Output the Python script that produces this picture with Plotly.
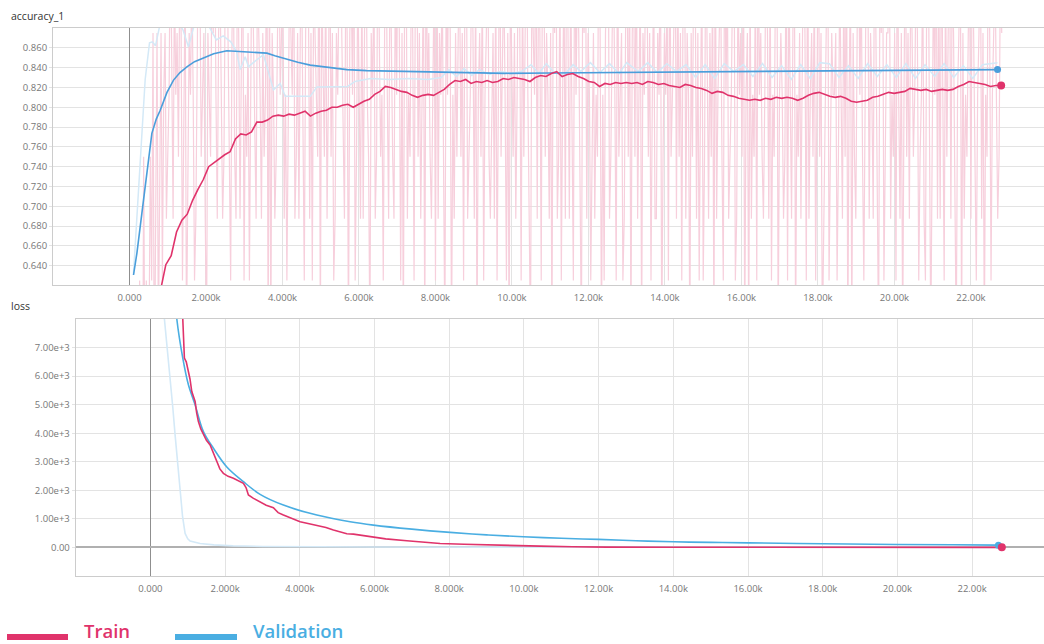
import plotly.graph_objects as go

W, H = 1044, 644

# ---------------- accuracy_1 ----------------
# training batches hold 16 samples; correct predictions per logged batch,
# logged every 35 steps from step 230
BATCH_SIZE = 16
train_correct_per_batch = [
    8, 10, 9, 6, 12, 8, 10, 7, 9, 12, 10, 14, 8, 11, 14, 9, 12, 14, 10, 13,
    14, 11, 12, 13, 16, 14, 11, 15, 13, 14, 12, 15, 14, 10, 13, 15, 9, 12, 14, 13,
    15, 13, 10, 11, 14, 16, 15, 12, 13, 14, 11, 9, 14, 13, 12, 15, 14, 16, 13, 11,
    14, 15, 13, 11, 12, 15, 16, 14, 13, 10, 14, 15, 12, 11, 15, 14, 11, 14, 16, 10,
    13, 12, 14, 10, 13, 16, 14, 12, 11, 15, 14, 13, 11, 14, 12, 13, 16, 9, 15, 9,
    14, 13, 11, 12, 14, 16, 13, 14, 15, 11, 13, 10, 12, 15, 14, 13, 16, 11, 12, 14,
    11, 14, 15, 13, 10, 14, 16, 15, 11, 14, 10, 15, 14, 13, 12, 16, 9, 15, 13, 12,
    15, 11, 13, 16, 12, 14, 10, 11, 14, 13, 15, 16, 14, 12, 11, 15, 14, 9, 14, 15,
    13, 16, 10, 12, 15, 13, 11, 15, 11, 14, 16, 13, 12, 9, 14, 13, 15, 11, 12, 16,
    14, 12, 13, 10, 14, 16, 13, 11, 15, 14, 12, 11, 15, 13, 16, 14, 10, 14, 9, 15,
    16, 11, 13, 12, 15, 14, 10, 15, 16, 12, 14, 11, 13, 15, 9, 16, 13, 14, 12, 11,
    13, 15, 10, 16, 11, 14, 13, 15, 12, 9, 15, 13, 16, 14, 9, 13, 11, 14, 12, 14,
    15, 12, 14, 10, 15, 16, 11, 12, 13, 15, 14, 11, 15, 9, 13, 14, 12, 15, 10, 13,
    14, 16, 12, 11, 13, 14, 11, 15, 10, 13, 16, 12, 14, 15, 13, 10, 14, 9, 15, 13,
    12, 14, 11, 13, 16, 14, 10, 15, 12, 14, 16, 13, 11, 9, 15, 14, 13, 16, 11, 15,
    14, 10, 16, 15, 12, 14, 13, 11, 14, 9, 15, 14, 16, 11, 12, 15, 10, 13, 15, 11,
    16, 14, 11, 15, 12, 10, 16, 13, 15, 14, 12, 9, 15, 14, 16, 11, 14, 13, 10, 12,
    14, 11, 13, 12, 16, 14, 9, 13, 10, 14, 15, 16, 11, 12, 14, 15, 13, 10, 16, 12,
    13, 14, 10, 11, 14, 16, 12, 15, 9, 14, 15, 12, 16, 11, 13, 15, 9, 14, 13, 15,
    15, 12, 14, 10, 13, 15, 11, 11, 14, 13, 16, 9, 12, 14, 13, 15, 10, 16, 12, 13,
    14, 16, 11, 15, 12, 14, 10, 15, 16, 11, 14, 13, 9, 14, 12, 16, 15, 11, 14, 10,
    13, 15, 10, 12, 16, 13, 11, 14, 12, 15, 9, 16, 11, 13, 14, 15, 12, 10, 16, 13,
    15, 11, 12, 13, 15, 16, 10, 11, 15, 13, 14, 12, 16, 9, 13, 14, 9, 15, 11, 13,
    12, 15, 10, 16, 13, 14, 12, 11, 13, 16, 14, 11, 15, 10, 13, 12, 15, 16, 9, 13,
    14, 13, 11, 12, 16, 10, 15, 13, 11, 14, 16, 9, 13, 12, 14, 11, 13, 16, 14, 10,
    16, 11, 13, 14, 12, 15, 10, 13, 16, 12, 14, 9, 11, 13, 14, 16, 10, 12, 14, 13,
    13, 14, 10, 12, 15, 13, 11, 15, 12, 16, 9, 13, 15, 9, 14, 12, 11, 14, 16, 13,
    15, 12, 10, 13, 16, 15, 11, 14, 13, 11, 16, 14, 12, 9, 15, 14, 16, 10, 12, 14,
    14, 16, 11, 13, 12, 14, 10, 16, 13, 11, 14, 9, 13, 16, 12, 14, 11, 15, 14, 12,
    13, 15, 14, 10, 12, 13, 15, 11, 10, 15, 16, 13, 9, 12, 15, 13, 16, 11, 15, 11,
    16, 13, 10, 15, 12, 14, 16, 11, 15, 14, 12, 9, 13, 14, 16, 9, 14, 11, 13, 12,
    14, 15, 11, 16, 14, 12, 10, 13, 14, 16, 11, 14, 9, 13, 12, 16, 14, 10, 13, 14,
    15, 13, 11, 12, 15, 14,
]
TRAIN_RAW_FIRST_STEP, TRAIN_RAW_EVERY = 230, 35
train_acc_raw = [c / BATCH_SIZE for c in train_correct_per_batch]
train_acc_raw_steps = [TRAIN_RAW_FIRST_STEP + TRAIN_RAW_EVERY * i for i in range(len(train_acc_raw))]

# smoothed training accuracy, sampled every 140 steps from step 250
train_acc_smooth = [
    0.500, 0.530, 0.560, 0.590, 0.615, 0.641, 0.650, 0.674, 0.686, 0.692, 0.706, 0.717, 0.727, 0.740, 0.744, 0.748,
    0.752, 0.755, 0.768, 0.773, 0.772, 0.775, 0.785, 0.785, 0.787, 0.791, 0.792, 0.791, 0.793, 0.792, 0.794, 0.796,
    0.791, 0.794, 0.796, 0.797, 0.800, 0.800, 0.802, 0.803, 0.800, 0.803, 0.806, 0.808, 0.813, 0.816, 0.821, 0.820,
    0.818, 0.816, 0.815, 0.812, 0.810, 0.812, 0.813, 0.812, 0.815, 0.818, 0.823, 0.827, 0.826, 0.828, 0.824, 0.826,
    0.825, 0.827, 0.825, 0.826, 0.829, 0.828, 0.830, 0.829, 0.828, 0.826, 0.830, 0.832, 0.831, 0.834, 0.836, 0.831,
    0.833, 0.834, 0.831, 0.829, 0.826, 0.825, 0.821, 0.824, 0.823, 0.825, 0.824, 0.825, 0.824, 0.825, 0.823, 0.826,
    0.825, 0.823, 0.824, 0.822, 0.821, 0.820, 0.823, 0.822, 0.820, 0.819, 0.817, 0.814, 0.816, 0.815, 0.812, 0.811,
    0.809, 0.808, 0.807, 0.808, 0.807, 0.809, 0.808, 0.810, 0.809, 0.810, 0.809, 0.807, 0.809, 0.812, 0.814, 0.815,
    0.813, 0.811, 0.810, 0.811, 0.809, 0.806, 0.805, 0.806, 0.807, 0.810, 0.811, 0.813, 0.815, 0.814, 0.815, 0.816,
    0.819, 0.818, 0.817, 0.818, 0.816, 0.817, 0.818, 0.817, 0.818, 0.821, 0.823, 0.826, 0.825, 0.824, 0.823, 0.821,
    0.822, 0.822,
]
TRAIN_SMOOTH_FIRST_STEP, TRAIN_SMOOTH_EVERY = 250, 140
train_acc_steps = [TRAIN_SMOOTH_FIRST_STEP + TRAIN_SMOOTH_EVERY * i for i in range(len(train_acc_smooth))]

# validation accuracy (raw evaluations and smoothed)
val_acc_raw_steps = [
    105, 250, 410, 523, 600, 680, 810, 1000, 1200, 1400, 1540, 1700, 1900, 2100, 2270, 2450, 2650, 2800, 2894, 3024,
    3111, 3300, 3503, 3765, 3940, 4071, 4400, 4725, 4899, 5300, 5700, 5900, 6300, 6800, 7300, 7800, 8150, 8350, 8550,
    8750, 8950, 9150, 9400, 9700, 10000, 10250, 10500, 10700, 10900, 11100, 11350, 11600, 11800, 12050, 12300, 12550,
    12800, 13000, 13300, 13550, 13800, 14050, 14300, 14550, 14800, 15050, 15300, 15550, 15800, 16050, 16300, 16550,
    16800, 17050, 17300, 17550, 17800, 18050, 18300, 18550, 18800, 19050, 19300, 19550, 19800, 20050, 20300, 20550,
    20800, 21050, 21300, 21550, 21800, 22050, 22300, 22695,
]
val_acc_raw = [
    0.632, 0.720, 0.828, 0.865, 0.866, 0.862, 0.886, 0.895, 0.890, 0.878, 0.861, 0.884, 0.893, 0.880, 0.868, 0.872,
    0.866, 0.856, 0.838, 0.851, 0.841, 0.847, 0.853, 0.8175, 0.824, 0.811, 0.811, 0.811, 0.8205, 0.821, 0.821, 0.826,
    0.829, 0.828, 0.829, 0.828, 0.830, 0.838, 0.831, 0.839, 0.832, 0.838, 0.833, 0.836, 0.834, 0.836, 0.843, 0.834,
    0.844, 0.835, 0.832, 0.843, 0.836, 0.845, 0.835, 0.844, 0.834, 0.845, 0.836, 0.845, 0.835, 0.844, 0.836, 0.843,
    0.830, 0.843, 0.829, 0.844, 0.836, 0.843, 0.831, 0.844, 0.830, 0.842, 0.828, 0.843, 0.829, 0.845, 0.844, 0.830,
    0.842, 0.829, 0.844, 0.831, 0.843, 0.830, 0.844, 0.829, 0.843, 0.831, 0.844, 0.830, 0.842, 0.829, 0.843, 0.845,
]
val_acc_steps = [
    105, 193, 324, 455, 585, 700, 803, 980, 1151, 1320, 1500, 1700, 1935, 2200, 2546, 2800, 3069, 3300, 3592, 3800,
    4027, 4400, 4725, 5200, 5684, 6200, 6816, 7500, 8122, 9000, 9800, 11000, 12500, 14615, 16500, 18500, 20500, 22695,
]
val_acc_smooth = [
    0.6306, 0.6525, 0.693, 0.733, 0.7736, 0.788, 0.797, 0.815, 0.8274, 0.835, 0.8408, 0.846, 0.850, 0.854, 0.857,
    0.8565, 0.8555, 0.855, 0.8546, 0.852, 0.8493, 0.8455, 0.8425, 0.840, 0.838, 0.837, 0.8365, 0.8355, 0.8348, 0.8345,
    0.8342, 0.8345, 0.835, 0.835, 0.8358, 0.8365, 0.8373, 0.838,
]

# ---------------- loss ----------------
train_loss_steps = [
    250, 500, 700, 867, 910, 960, 1018, 1060, 1108, 1150, 1197, 1240, 1285, 1350, 1419, 1500, 1598, 1700, 1777, 1860,
    1954, 2080, 2222, 2350, 2490, 2560, 2624, 2760, 2937, 3100, 3293, 3420, 3561, 3800, 4008, 4250, 4455, 4700, 4900,
    5100, 5259, 5435, 5700, 6062, 6300, 6865, 7300, 7757, 8400, 9096, 9800, 10434, 11300, 12220, 14000, 16000, 18000,
    20000, 22796,
]
train_loss_smooth = [
    30000, 17000, 11000, 8000, 6631, 6500, 6161, 5900, 5460, 5300, 5109, 4700, 4407, 4150, 3940, 3750, 3589, 3250, 3004,
    2750, 2596, 2490, 2421, 2330, 2246, 2100, 1835, 1720, 1600, 1480, 1389, 1220, 1133, 1010, 898, 830, 782, 700, 607,
    540, 477, 467, 420, 351, 300, 232, 190, 140, 110, 81, 62, 46, 25, 10, 8, 6, 5, 4, 4,
]
val_loss_raw_steps = [105, 250, 375, 450, 527, 600, 661, 730, 795, 860, 929, 1000, 1063, 1331, 1700, 2216, 3000, 4000,
                      6000, 9000, 13000, 18000, 22695]
val_loss_raw = [30000, 14000, 8000, 7000, 6000, 4900, 3940, 2900, 1835, 1100, 491, 300, 221, 140, 90, 56, 35, 25, 15,
                10, 7, 5, 4]
val_loss_steps = [105, 300, 500, 707, 867, 1018, 1197, 1419, 1687, 2046, 2490, 2937, 3561, 4455, 5347, 5971, 7000,
                  8024, 9000, 9987, 11000, 11996, 13000, 14004, 15000, 16011, 18000, 19984, 21500, 22704]
val_loss_smooth = [30000, 18000, 11500, 8000, 6631, 5695, 4993, 4056, 3474, 2818, 2302, 1860, 1484, 1133, 898, 782, 640,
                   526, 440, 372, 320, 281, 235, 197, 178, 161, 130, 105, 92, 81]

# axis labelling
step_ticks = [0, 2000, 4000, 6000, 8000, 10000, 12000, 14000, 16000, 18000, 20000, 22000]
step_tick_text = ["0.000", "2.000k", "4.000k", "6.000k", "8.000k", "10.00k", "12.00k", "14.00k", "16.00k",
                  "18.00k", "20.00k", "22.00k"]
acc_ticks = [0.64, 0.66, 0.68, 0.70, 0.72, 0.74, 0.76, 0.78, 0.80, 0.82, 0.84, 0.86]
acc_tick_text = ["0.640", "0.660", "0.680", "0.700", "0.720", "0.740", "0.760", "0.780", "0.800", "0.820",
                 "0.840", "0.860"]
loss_ticks = [0, 1000, 2000, 3000, 4000, 5000, 6000, 7000]
loss_tick_text = ["0.00", "1.00e+3", "2.00e+3", "3.00e+3", "4.00e+3", "5.00e+3", "6.00e+3", "7.00e+3"]

series_names = ["Train", "Validation"]

# ---------------- styling ----------------
TRAIN = "#e0336b"
VAL = "#4aaee2"
VAL_DARK = "#4a9edb"
TRAIN_RAW = "#f7cfdc"
VAL_RAW = "#d4e9f7"
GRID = "#e3e3e3"
AXIS = "#cccccc"
TICK_FONT = dict(family="Open Sans, Noto Sans, sans-serif", size=9.5, color="#777777")


def px_x(p):
    return p / W


def px_y(p):
    return 1 - p / H


fig = go.Figure()

# accuracy panel
fig.add_trace(go.Scatter(x=train_acc_raw_steps, y=train_acc_raw, mode="lines",
                         line=dict(color=TRAIN_RAW, width=1.2), xaxis="x", yaxis="y", showlegend=False))
fig.add_trace(go.Scatter(x=val_acc_raw_steps, y=val_acc_raw, mode="lines",
                         line=dict(color=VAL_RAW, width=1.5), xaxis="x", yaxis="y", showlegend=False))
fig.add_trace(go.Scatter(x=val_acc_steps, y=val_acc_smooth, mode="lines",
                         line=dict(color=VAL_DARK, width=1.6), xaxis="x", yaxis="y", showlegend=False))
fig.add_trace(go.Scatter(x=train_acc_steps, y=train_acc_smooth, mode="lines",
                         line=dict(color=TRAIN, width=1.6), xaxis="x", yaxis="y", showlegend=False))
fig.add_trace(go.Scatter(x=[val_acc_steps[-1]], y=[val_acc_smooth[-1]], mode="markers",
                         marker=dict(color=VAL_DARK, size=7), xaxis="x", yaxis="y", showlegend=False))
fig.add_trace(go.Scatter(x=[train_acc_steps[-1]], y=[train_acc_smooth[-1]], mode="markers",
                         marker=dict(color=TRAIN, size=8), xaxis="x", yaxis="y", showlegend=False))

# loss panel
fig.add_trace(go.Scatter(x=val_loss_raw_steps, y=val_loss_raw, mode="lines",
                         line=dict(color=VAL_RAW, width=1.6), xaxis="x2", yaxis="y2", showlegend=False))
fig.add_trace(go.Scatter(x=val_loss_steps, y=val_loss_smooth, mode="lines", line_shape="spline",
                         line=dict(color=VAL, width=1.6), xaxis="x2", yaxis="y2", showlegend=False))
fig.add_trace(go.Scatter(x=train_loss_steps, y=train_loss_smooth, mode="lines",
                         line=dict(color=TRAIN, width=1.6), xaxis="x2", yaxis="y2", showlegend=False))
fig.add_trace(go.Scatter(x=[val_loss_steps[-1]], y=[val_loss_smooth[-1]], mode="markers",
                         marker=dict(color=VAL, size=7), xaxis="x2", yaxis="y2", showlegend=False))
fig.add_trace(go.Scatter(x=[train_loss_steps[-1]], y=[train_loss_smooth[-1]], mode="markers",
                         marker=dict(color=TRAIN, size=8), xaxis="x2", yaxis="y2", showlegend=False))

common_x = dict(tickmode="array", tickvals=step_ticks, ticktext=step_tick_text, tickfont=TICK_FONT,
                showgrid=True, gridcolor=GRID, gridwidth=1, showline=True, linecolor=AXIS, mirror=True,
                zeroline=True, zerolinecolor="#8f8f8f", zerolinewidth=1, ticks="outside", ticklen=4,
                tickcolor="rgba(0,0,0,0)", fixedrange=True)
common_y = dict(tickmode="array", tickfont=TICK_FONT, showgrid=True, gridcolor=GRID, gridwidth=1,
                showline=True, linecolor=AXIS, ticks="outside", ticklen=3, tickcolor=GRID, fixedrange=True)

fig.update_layout(
    width=W, height=H, margin=dict(l=0, r=0, t=0, b=0),
    paper_bgcolor="white", plot_bgcolor="white", showlegend=False,
    xaxis=dict(common_x, domain=[px_x(53), 1.0], range=[-2000, 23910], anchor="y"),
    yaxis=dict(common_y, domain=[px_y(285), px_y(28)], range=[0.6205, 0.880], anchor="x",
               tickvals=acc_ticks, ticktext=acc_tick_text, zeroline=False),
    xaxis2=dict(common_x, domain=[px_x(75.7), 1.0], range=[-2000, 23925], anchor="y2"),
    yaxis2=dict(common_y, domain=[px_y(576), px_y(319)], range=[-1000, 8000], anchor="x2",
                tickvals=loss_ticks, ticktext=loss_tick_text, zeroline=True, zerolinecolor="#b0b0b0",
                zerolinewidth=2),
)

# panel titles
title_font = dict(family="Open Sans, Noto Sans, sans-serif", size=10.5, color="#333333")
fig.add_annotation(text="accuracy_1", x=px_x(9), y=px_y(16), xref="paper", yref="paper",
                   xanchor="left", yanchor="middle", showarrow=False, font=title_font)
fig.add_annotation(text="loss", x=px_x(9), y=px_y(306), xref="paper", yref="paper",
                   xanchor="left", yanchor="middle", showarrow=False, font=title_font)

# legend: swatch line + label for each run
legend_items = [(series_names[0], TRAIN, 7, 68, 82), (series_names[1], VAL, 175, 237, 251)]
for name, color, x0, x1, tx in legend_items:
    fig.add_shape(type="line", xref="paper", yref="paper", x0=px_x(x0), x1=px_x(x1),
                  y0=px_y(637), y1=px_y(637), line=dict(color=color, width=6))
    fig.add_annotation(text=name, x=px_x(tx), y=px_y(630.5), xref="paper", yref="paper",
                       xanchor="left", yanchor="middle", showarrow=False,
                       font=dict(family="Open Sans, Noto Sans, sans-serif", size=18.5, color=color, weight=600))

fig.write_html("out.html")
